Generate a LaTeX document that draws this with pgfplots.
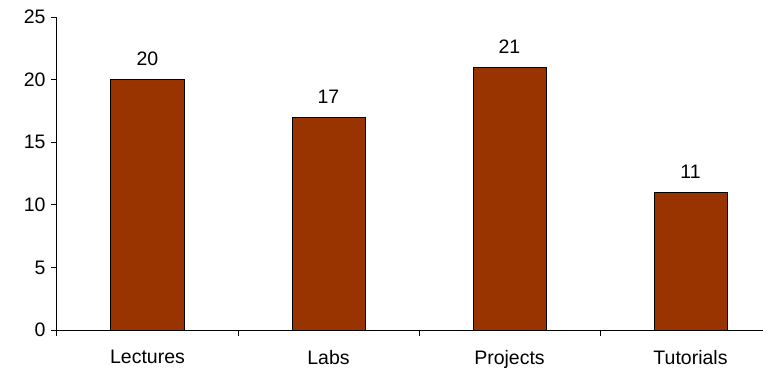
\documentclass[border=0pt]{standalone}
\usepackage{pgfplots}
\pgfplotsset{compat=1.18}
\usepackage{fontspec}
\setmainfont{Liberation Sans}
\definecolor{barbrown}{HTML}{993300}
\begin{document}
\begin{tikzpicture}
\useasboundingbox (-57pt,-38pt) rectangle (706pt,330pt);
\begin{axis}[
  scale only axis,
  width=706pt, height=313pt,
  anchor=south west, at={(0pt,0pt)},
  xmin=-0.5, xmax=3.4006,
  ymin=0, ymax=25,
  axis lines=left,
  axis line style={-, line width=1pt, black},
  ytick={0,5,...,25},
  xtick={0,1,2,3},
  xticklabels={Lectures,Labs,Projects,Tutorials},
  minor xtick={-0.5,0.5,1.5,2.5},
  major x tick style={draw=none},
  tick align=outside,
  major tick length=6pt,
  minor tick length=6pt,
  tick style={line width=1pt, black},
  /pgf/number format/assume math mode=true,
  tick label style={font=\fontsize{19.5}{22}\selectfont},
  xticklabel style={yshift=-11pt},
  yticklabel style={xshift=-2pt},
  clip=false,
]
\addplot[ybar, bar width=73pt, fill=barbrown, draw=black, line width=1pt,
  nodes near coords,
  every node near coord/.append style={font=\fontsize{19.5}{22}\selectfont, yshift=10pt, black}]
  coordinates {(0,20) (1,17) (2,21) (3,11)};
\end{axis}
\end{tikzpicture}
\end{document}
